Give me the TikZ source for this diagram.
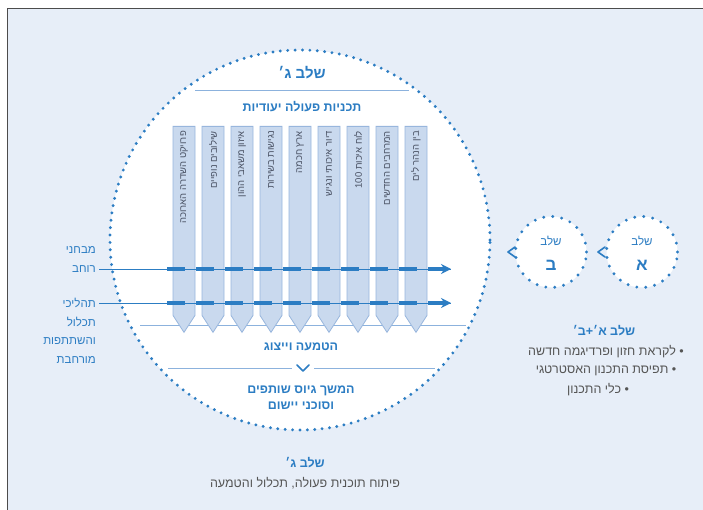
\documentclass[tikz,border=0pt]{standalone}
\usepackage{fontspec}
\setmainfont{Liberation Sans}[Script=Hebrew]
\TeXXeTstate=1
\usetikzlibrary{shapes.symbols,arrows.meta}
\definecolor{panel}{HTML}{E7EEF8}
\definecolor{stageblue}{HTML}{2C7DC3}
\definecolor{colfill}{HTML}{C9D9EE}
\definecolor{coledge}{HTML}{98B6DD}
\definecolor{rulecol}{HTML}{8CB2DD}
\definecolor{coltxt}{HTML}{4A5264}
\definecolor{graytxt}{HTML}{555555}
\newcommand{\heb}[1]{\beginR#1\endR}
\begin{document}
\begin{tikzpicture}[x=1pt,y=-1pt,
  ring/.style={circle,draw=stageblue,fill=white,line width=3.2pt,line cap=round,dash pattern=on 0pt off 7.4pt,inner sep=0pt},
  col/.style={shape=signal,signal to=south,signal pointer angle=66,draw=coledge,fill=colfill,line width=0.8pt,minimum width=22pt,minimum height=189pt,inner sep=0pt,anchor=north},
  coltext/.style={rotate=90,anchor=east,text=coltxt,font=\fontsize{9.5}{11}\selectfont,inner sep=0pt},
  head/.style={text=stageblue,font=\bfseries\fontsize{12.5}{15}\selectfont},
  side/.style={anchor=east,text=stageblue,font=\fontsize{11.5}{13}\selectfont,inner sep=0pt},
  plain/.style={text=graytxt,font=\fontsize{12.5}{15}\selectfont},
  chev/.style={draw=stageblue,line width=1.6pt,line cap=round,line join=round}]
\useasboundingbox (0,0) rectangle (703,510);
\fill[white] (0,0) rectangle (703,510);
\fill[panel] (8,9) rectangle (703,510);
\draw[black!70,line width=1.5pt] (7.5,510) -- (7.5,8.5) -- (703,8.5);

% stage C circle
\node[ring,minimum size=380pt] (ring) at (300,240) {};
\node[head,font=\bfseries\fontsize{15}{18}\selectfont] (gtop) at (302,73) {\heb{שלב ג׳}};
\draw[rulecol,line width=1pt] (195,91) -- (409,91);
\node[head] (plans) at (302,107) {\heb{תכניות פעולה יעודיות}};
\draw[rulecol,line width=1pt] (140,325) -- (466,325);

% action plans
\node[col] (c1) at (184,126) {};
\node[col] (c2) at (213,126) {};
\node[col] (c3) at (242,126) {};
\node[col] (c4) at (271,126) {};
\node[col] (c5) at (300,126) {};
\node[col] (c6) at (329,126) {};
\node[col] (c7) at (358,126) {};
\node[col] (c8) at (387,126) {};
\node[col] (c9) at (416,126) {};
\node[coltext] (t1) at ([yshift=-5pt]c1.north) {\heb{פרויקט השדרה הארוכה}};
\node[coltext] (t2) at ([yshift=-5pt]c2.north) {\heb{שילובים נופיים}};
\node[coltext] (t3) at ([yshift=-5pt]c3.north) {\heb{איזון משאבי ההון}};
\node[coltext] (t4) at ([yshift=-5pt]c4.north) {\heb{נגישות בשירות}};
\node[coltext] (t5) at ([yshift=-5pt]c5.north) {\heb{ארץ חכמה}};
\node[coltext] (t6) at ([yshift=-5pt]c6.north) {\heb{דיור איכותי ונגיש}};
\node[coltext] (t7) at ([yshift=-5pt]c7.north) {\heb{לוח איכות 100}};
\node[coltext] (t8) at ([yshift=-5pt]c8.north) {\heb{המרחבים החדשים}};
\node[coltext] (t9) at ([yshift=-5pt]c9.north) {\heb{בין הנהר לים}};

% cross arrows
\node[side] (w1) at (96,250) {\heb{מבחני}};
\node[side] (w2) at (96,269) {\heb{רוחב}};
\node[side] (p1) at (96,303) {\heb{תהליכי}};
\node[side] (p2) at (96,322) {\heb{תכלול}};
\node[side] (p3) at (96,341) {\heb{והשתתפות}};
\node[side] (p4) at (96,360) {\heb{מורחבת}};
\coordinate (w2s) at (167,269);
\coordinate (w2e) at (451,269);
\coordinate (p1s) at (167,303);
\coordinate (p1e) at (451,303);
\draw[stageblue,line width=0.9pt] ([xshift=3pt]w2.east) -- (w2e);
\draw[stageblue,line width=0.9pt] ([xshift=3pt]p1.east) -- (p1e);
\draw[stageblue,line width=3.4pt,dash pattern=on 18pt off 11pt,-{Stealth[length=10pt,width=10pt]}] (w2s) -- (w2e);
\draw[stageblue,line width=3.4pt,dash pattern=on 18pt off 11pt,-{Stealth[length=10pt,width=10pt]}] (p1s) -- (p1e);

\node[head] (embed) at (301,347) {\heb{הטמעה וייצוג}};
\draw[rulecol,line width=1pt] (168,368) -- (292,368);
\draw[rulecol,line width=1pt] (314,368) -- (435,368);
\draw[chev] (297,365) -- (303,371) -- (309,365);
\node[head,align=center] (agents) at (301,398) {\heb{המשך גיוס שותפים}\\[1pt]\heb{וסוכני יישום}};

% stages A and B
\node[ring,minimum size=71pt,dash pattern=on 0pt off 9pt] (sb) at (551,252) {};
\node[ring,minimum size=71pt,dash pattern=on 0pt off 9pt] (sa) at (642,252) {};
\node[side,anchor=center] (sbt) at (551,241) {\heb{שלב}};
\node[head,font=\bfseries\fontsize{17}{19}\selectfont] (sbl) at (551,265) {\heb{ב}};
\node[side,anchor=center] (sat) at (642,241) {\heb{שלב}};
\node[head,font=\bfseries\fontsize{17}{19}\selectfont] (sal) at (642,265) {\heb{א}};
\draw[chev] (515,247) -- (508,252) -- (515,257);
\draw[chev] (605,247) -- (598,252) -- (605,257);

\node[head] (abh) at (604,331) {\heb{שלב א׳+ב׳}};
\node[plain] (ab1) at (606,352) {\heb{• לקראת חזון ופרדיגמה חדשה}};
\node[plain] (ab2) at (606,371) {\heb{• תפיסת התכנון האסטרטגי}};
\node[plain] (ab3) at (598,390) {\heb{• כלי התכנון}};

% caption
\node[head] (gh) at (305,463) {\heb{שלב ג׳}};
\node[plain] (gt) at (305,483) {\heb{פיתוח תוכנית פעולה, תכלול והטמעה}};
\end{tikzpicture}
\end{document}
